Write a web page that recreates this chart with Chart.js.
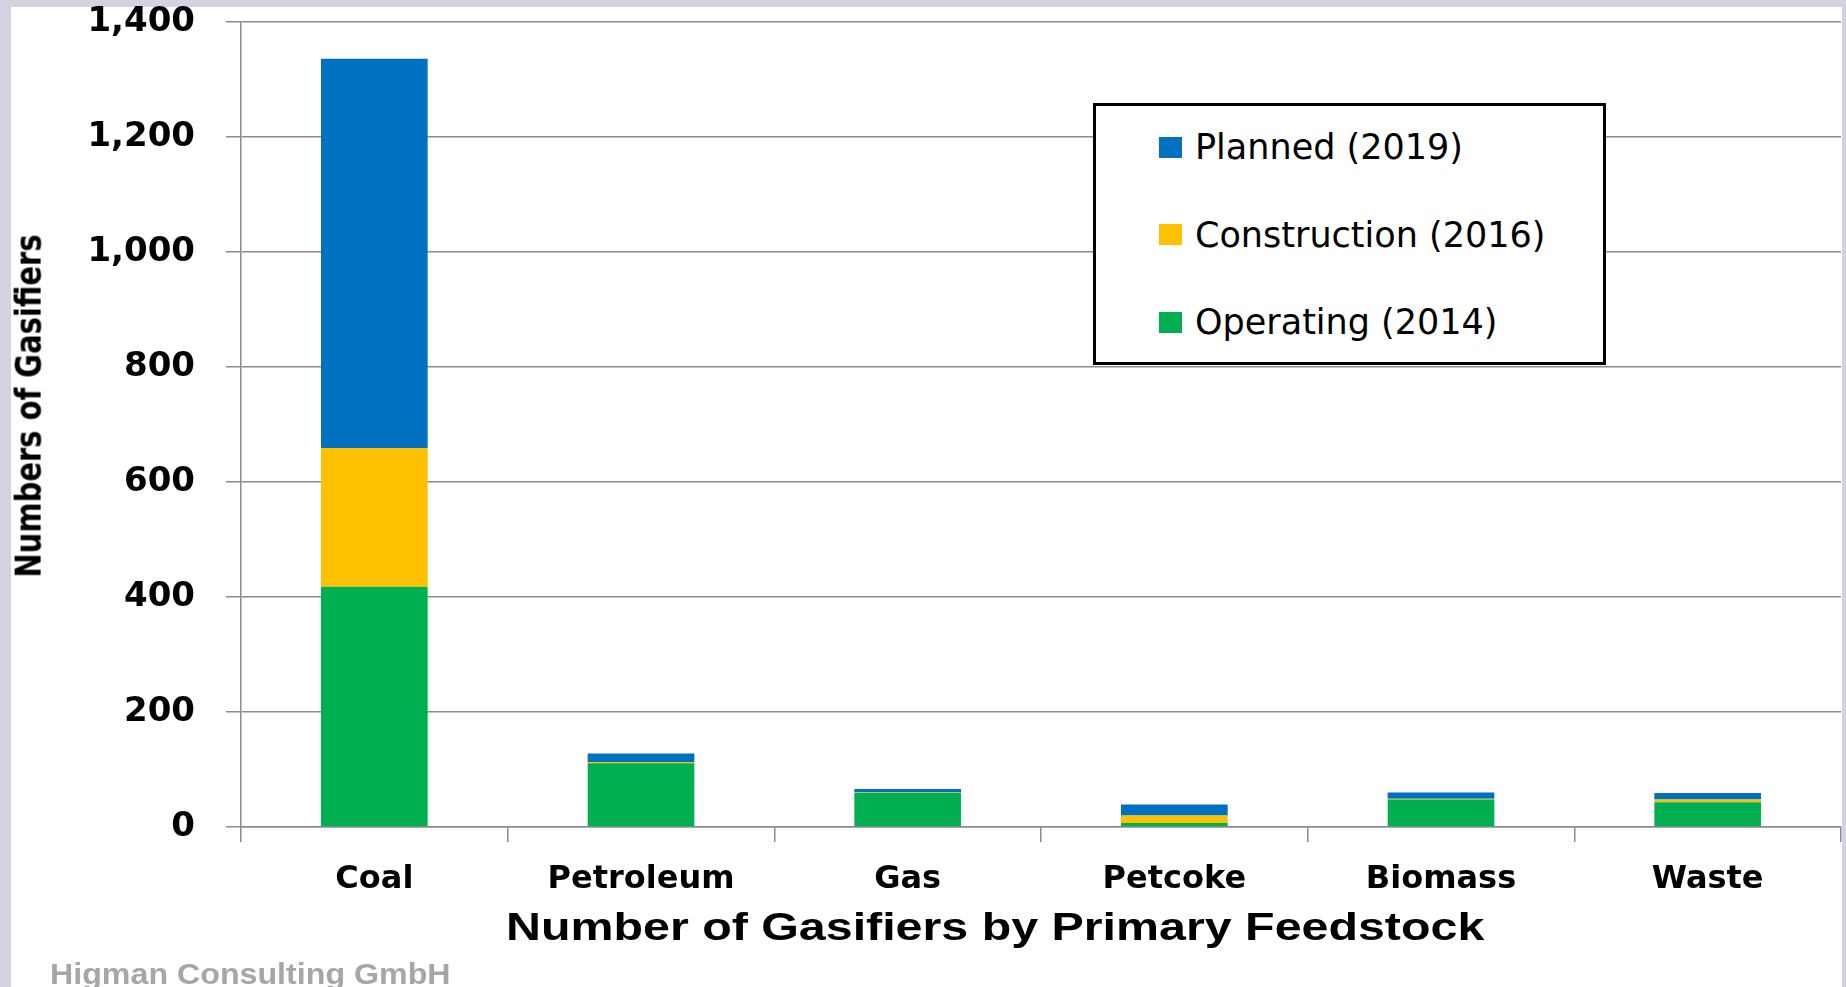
<!DOCTYPE html>
<html>
<head>
<meta charset="utf-8">
<title>Number of Gasifiers by Primary Feedstock</title>
<script src="https://cdn.jsdelivr.net/npm/chart.js@4.4.1/dist/chart.umd.min.js"></script>
<style>
  html, body { margin: 0; padding: 0; }
  body {
    width: 1846px; height: 987px; overflow: hidden;
    position: relative; background: #d4d1e2;
  }
  #panel { position: absolute; left: 11px; top: 7px; width: 1831px; height: 980px; background: #fff; }
  #chartWrap { position: absolute; left: 0; top: 0; width: 1846px; height: 987px; }

  /* ── axis / chart titles (slide text is stretched a bit wide) ── */
  #yTitle {
    position: absolute; left: 29px; top: 406px; white-space: nowrap;
    font: bold 29px "DejaVu Sans", sans-serif; color: #000;
    transform: translate(-50%, -50%) rotate(-90deg) scaleY(1.2);
  }
  #xTitle {
    position: absolute; left: 506px; top: 907px; white-space: nowrap;
    font: bold 39px "Liberation Sans", Arial, sans-serif; line-height: 39px; color: #000;
    transform: scaleX(1.24); transform-origin: left top;
  }
  #footer {
    position: absolute; left: 50px; top: 960px; white-space: nowrap;
    font: bold 29px "Liberation Sans", Arial, sans-serif; line-height: 29px; color: #a6a6a6;
    transform: scaleX(1.11); transform-origin: left top;
  }

  /* ── legend box ── */
  #legend {
    position: absolute; left: 1093px; top: 103px; width: 507px; height: 256px;
    border: 3px solid #000; background: #fff;
  }
  .legItem {
    position: absolute; left: 63px; height: 40px;
    display: flex; align-items: center; white-space: nowrap;
    font: 35px "DejaVu Sans", sans-serif; color: #000;
  }
  .legSwatch { width: 23px; height: 21px; margin-right: 13px; flex-shrink: 0; }
</style>
</head>
<body>
<div id="panel"></div>
<div id="chartWrap"><canvas id="gasChart"></canvas></div>
<div id="yTitle">Numbers of Gasifiers</div>
<div id="xTitle">Number of Gasifiers by Primary Feedstock</div>
<div id="footer">Higman Consulting GmbH</div>
<div id="legend"></div>

<script>
// ── Data ──────────────────────────────────────────────────────────
const feedstocks       = ["Coal", "Petroleum", "Gas", "Petcoke", "Biomass", "Waste"];
const operating2014    = [418, 111, 59,  7, 48, 43];
const construction2016 = [241,   2,  1, 13,  1,  5];
const planned2019      = [677,  15,  6, 19, 11, 11];
const yTickValues      = [0, 200, 400, 600, 800, 1000, 1200, 1400];

const seriesLabels = ["Operating (2014)", "Construction (2016)", "Planned (2019)"];
const seriesColors = ["#00b050", "#ffc000", "#0070c0"];

const GRID = "#8c8c8c";
const X_FONT = { family: "'DejaVu Sans', sans-serif", weight: "bold", size: 32 };
const Y_FONT = { family: "'DejaVu Sans', sans-serif", weight: "bold", size: 34 };

// ── Chart ────────────────────────────────────────────────────────
const ctx = document.getElementById("gasChart").getContext("2d");

new Chart(ctx, {
  type: "bar",
  data: {
    labels: feedstocks,
    datasets: [operating2014, construction2016, planned2019].map((vals, i) => ({
      label: seriesLabels[i],
      data: vals,
      backgroundColor: seriesColors[i],
      borderWidth: 0,
      barPercentage: 0.4,
      categoryPercentage: 1.0,
    })),
  },
  options: {
    responsive: true,
    maintainAspectRatio: false,
    animation: false,
    layout: { padding: { top: 22, right: 5, left: 0, bottom: 0 } },
    plugins: {
      legend: { display: false },
      tooltip: { enabled: false },
    },
    scales: {
      x: {
        stacked: true,
        afterFit: s => { s.height = 160; },
        grid: {
          offset: true,
          drawOnChartArea: false,
          drawTicks: true,
          tickLength: 15,
          color: GRID,
          lineWidth: 1.5,
        },
        border: { display: true, color: GRID, width: 1.5 },
        ticks: { color: "#000", font: X_FONT, padding: 18, maxRotation: 0 },
      },
      y: {
        stacked: true,
        min: yTickValues[0],
        max: yTickValues[yTickValues.length - 1],
        // pin the axis: fixed width, no extra room above the top label
        afterFit: s => { s.width = 241; s.paddingTop = 0; s.paddingBottom = 0; },
        afterBuildTicks: s => { s.ticks = yTickValues.map(v => ({ value: v })); },
        grid: { color: GRID, lineWidth: 1.5, drawTicks: true, tickLength: 15 },
        border: { display: true, color: GRID, width: 1.5 },
        ticks: {
          color: "#000",
          font: Y_FONT,
          padding: 31,
          callback: v => v.toLocaleString("en-US"),
        },
      },
    },
  },
});

// ── Legend (Planned on top, like the stack) ──────────────────────
const legendEl = document.getElementById("legend");
[2, 1, 0].forEach((idx, row) => {
  const item = document.createElement("div");
  item.className = "legItem";
  item.style.top = (41 + row * 87.5 - 20) + "px";
  item.innerHTML = `<span class="legSwatch" style="background:${seriesColors[idx]}"></span>${seriesLabels[idx]}`;
  legendEl.appendChild(item);
});
</script>
</body>
</html>
